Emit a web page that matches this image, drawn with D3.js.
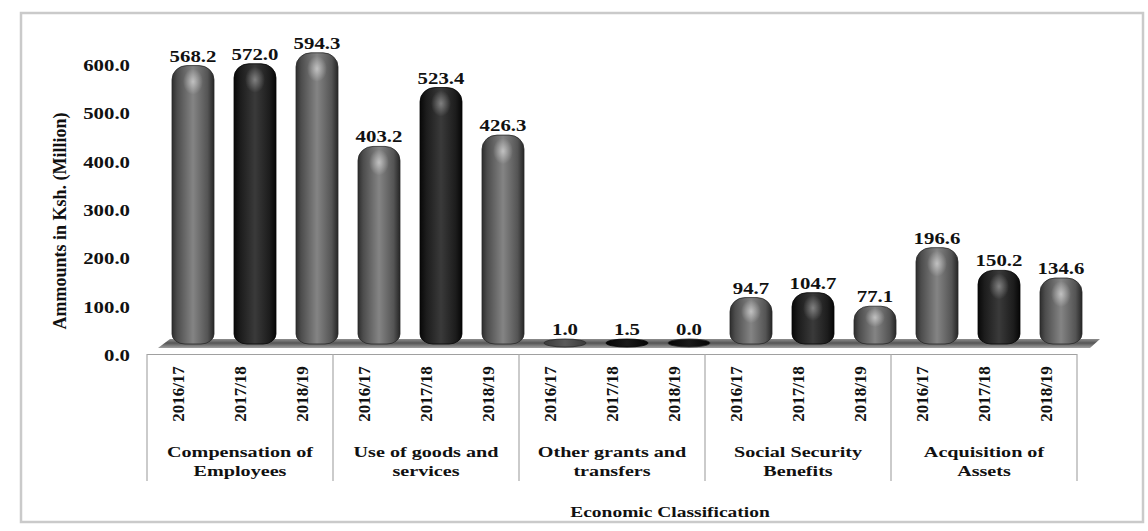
<!DOCTYPE html>
<html><head><meta charset="utf-8">
<script src="https://cdn.jsdelivr.net/npm/d3@7"></script>
<style>html,body{margin:0;padding:0;background:#fff;}svg{display:block;}</style>
</head><body>
<svg id="chart" width="1148" height="531"></svg>
<script>
const categories = [["Compensation of","Employees"],["Use of goods and","services"],["Other grants and","transfers"],["Social Security","Benefits"],["Acquisition of","Assets"]];
const years = ["2016/17","2017/18","2018/19"];
const v2016 = [568.2, 403.2, 1.0, 94.7, 196.6];
const v2017 = [572.0, 523.4, 1.5, 104.7, 150.2];
const v2018 = [594.3, 426.3, 0.0, 77.1, 134.6];
const yTicks = [0,100,200,300,400,500,600];
const yTitle = "Ammounts in Ksh. (Million)";
const xTitle = "Economic Classification";

const series = [v2016, v2017, v2018];
const svg = d3.select("#chart");
const FONT = "Liberation Serif";
const SX = 1.3;

const catKeys = categories.map((c,i)=>"c"+i);
const x0 = d3.scaleBand().domain(catKeys).range([147,1077]);
const x1 = d3.scaleBand().domain(years).range([0,x0.bandwidth()]);
const y = d3.scaleLinear().domain([0,600]).range([356,66]);
const yBar = d3.scaleLinear().domain([0,600]).range([344,50]);

// frame
svg.append("rect").attr("x",21).attr("y",13).attr("width",1122).attr("height",509)
  .attr("fill","none").attr("stroke","#cacaca").attr("stroke-width",2.5);

const defs = svg.append("defs");
function linGrad(id, stops){
  const g = defs.append("linearGradient").attr("id",id).attr("x1",0).attr("x2",1).attr("y1",0).attr("y2",0);
  stops.forEach(s=>g.append("stop").attr("offset",s[0]).attr("stop-color",s[1]));
}
linGrad("gGray",[[0,"#2e2e2e"],[0.12,"#4c4c4c"],[0.5,"#848484"],[0.85,"#545454"],[1,"#262626"]]);
linGrad("gBlack",[[0,"#080808"],[0.15,"#1c1c1c"],[0.5,"#3a3a3a"],[0.85,"#1c1c1c"],[1,"#060606"]]);
linGrad("gFlatGray",[[0,"#3a3a3a"],[0.5,"#5a5a5a"],[1,"#3a3a3a"]]);
linGrad("gFlatBlack",[[0,"#050505"],[0.5,"#1a1a1a"],[1,"#050505"]]);
const rg = defs.append("radialGradient").attr("id","hl");
rg.append("stop").attr("offset",0).attr("stop-color","#fff").attr("stop-opacity",0.55);
rg.append("stop").attr("offset",1).attr("stop-color","#fff").attr("stop-opacity",0);
const fg = defs.append("linearGradient").attr("id","floor").attr("x1",0).attr("x2",0).attr("y1",0).attr("y2",1);
[[0,"#8e8e8e"],[0.45,"#555"],[1,"#a0a0a0"]].forEach(s=>fg.append("stop").attr("offset",s[0]).attr("stop-color",s[1]));

// floor
const fl = x0.range()[0]+11, fr = x0.range()[1]+13;
svg.append("polygon").attr("points",`${fl},348 ${fr},348 ${fr+10},339 ${fl+12},339`).attr("fill","url(#floor)");

// y ticks
yTicks.forEach(t=>{
  svg.append("text").attr("transform",`translate(130,${y(t)+5}) scale(${SX},1)`)
    .attr("text-anchor","end").attr("font-family",FONT).attr("font-weight","bold").attr("font-size",16)
    .attr("fill","#111").text(d3.format(".1f")(t));
});
svg.append("text").attr("transform","translate(66,221) rotate(-90)").attr("text-anchor","middle")
  .attr("font-family",FONT).attr("font-weight","bold").attr("font-size",18).attr("fill","#111").text(yTitle);

// table
svg.append("line").attr("x1",x0.range()[0]).attr("x2",x0.range()[1]).attr("y1",354.5).attr("y2",354.5)
  .attr("stroke","#a0a0a0").attr("stroke-width",1.2);
catKeys.concat(["end"]).forEach((k,i)=>{
  const xx = i<catKeys.length ? x0(k) : x0.range()[1];
  svg.append("line").attr("x1",xx).attr("x2",xx).attr("y1",354).attr("y2",481).attr("stroke","#a8a8a8").attr("stroke-width",1.2);
});

function barPath(x, w, top, bottom){
  const h = bottom-top;
  const rt = Math.min(14, h/2), rb = Math.min(10, h/2);
  const rxT = h<20 ? w/2 : 15, rxB = h<20 ? w/2 : 13;
  return `M${x},${bottom-rb} L${x},${top+rt} A${rxT},${rt} 0 0 1 ${x+rxT},${top} L${x+w-rxT},${top} A${rxT},${rt} 0 0 1 ${x+w},${top+rt} L${x+w},${bottom-rb} A${rxB},${rb} 0 0 1 ${x+w-rxB},${bottom} L${x+rxB},${bottom} A${rxB},${rb} 0 0 1 ${x},${bottom-rb} Z`;
}

const BW = 42, DX = 15;
categories.forEach((cat,ci)=>{
  const k = catKeys[ci];
  const cx0 = x0(k)+x0.bandwidth()/2;
  years.forEach((yr,si)=>{
    const v = series[si][ci];
    const slotC = x0(k)+x1(yr)+x1.bandwidth()/2;
    const bc = slotC + DX;
    let bottom = 344, top = yBar(v);
    let flat = false;
    if (bottom-top < 9){ bottom = 347; top = 339; flat = true; }
    let fill = si===1 ? "url(#gBlack)" : "url(#gGray)";
    if (flat) fill = si===0 ? "url(#gFlatGray)" : "url(#gFlatBlack)";
    svg.append("path").attr("d",barPath(bc-BW/2, BW, top, bottom)).attr("fill",fill)
      .attr("stroke", si===1?"#050505":"#2a2a2a").attr("stroke-width",0.8);
    const h = bottom-top;
    if (h>20){
      svg.append("ellipse").attr("cx",bc).attr("cy",top+Math.min(16,h*0.3)).attr("rx",10).attr("ry",Math.min(13,h*0.25))
        .attr("fill","url(#hl)").attr("opacity", si===1?0.65:0.9);
    }
    svg.append("text").attr("transform",`translate(${bc},${top-4}) scale(${SX},1)`).attr("text-anchor","middle")
      .attr("font-family",FONT).attr("font-weight","bold").attr("font-size",16).attr("fill","#111")
      .text(d3.format(".1f")(v));
    svg.append("text").attr("transform",`translate(${slotC+6},394) rotate(-90)`).attr("text-anchor","middle")
      .attr("font-family",FONT).attr("font-weight","bold").attr("font-size",17).attr("fill","#111").text(yr);
  });
  cat.forEach((line,li)=>{
    svg.append("text").attr("transform",`translate(${cx0},${457+li*19}) scale(${SX},1)`).attr("text-anchor","middle")
      .attr("font-family",FONT).attr("font-weight","bold").attr("font-size",15.5).attr("fill","#111").text(line);
  });
});

svg.append("text").attr("transform",`translate(670,517) scale(${SX},1)`).attr("text-anchor","middle")
  .attr("font-family",FONT).attr("font-weight","bold").attr("font-size",15).attr("fill","#111").text(xTitle);
</script>
</body></html>
